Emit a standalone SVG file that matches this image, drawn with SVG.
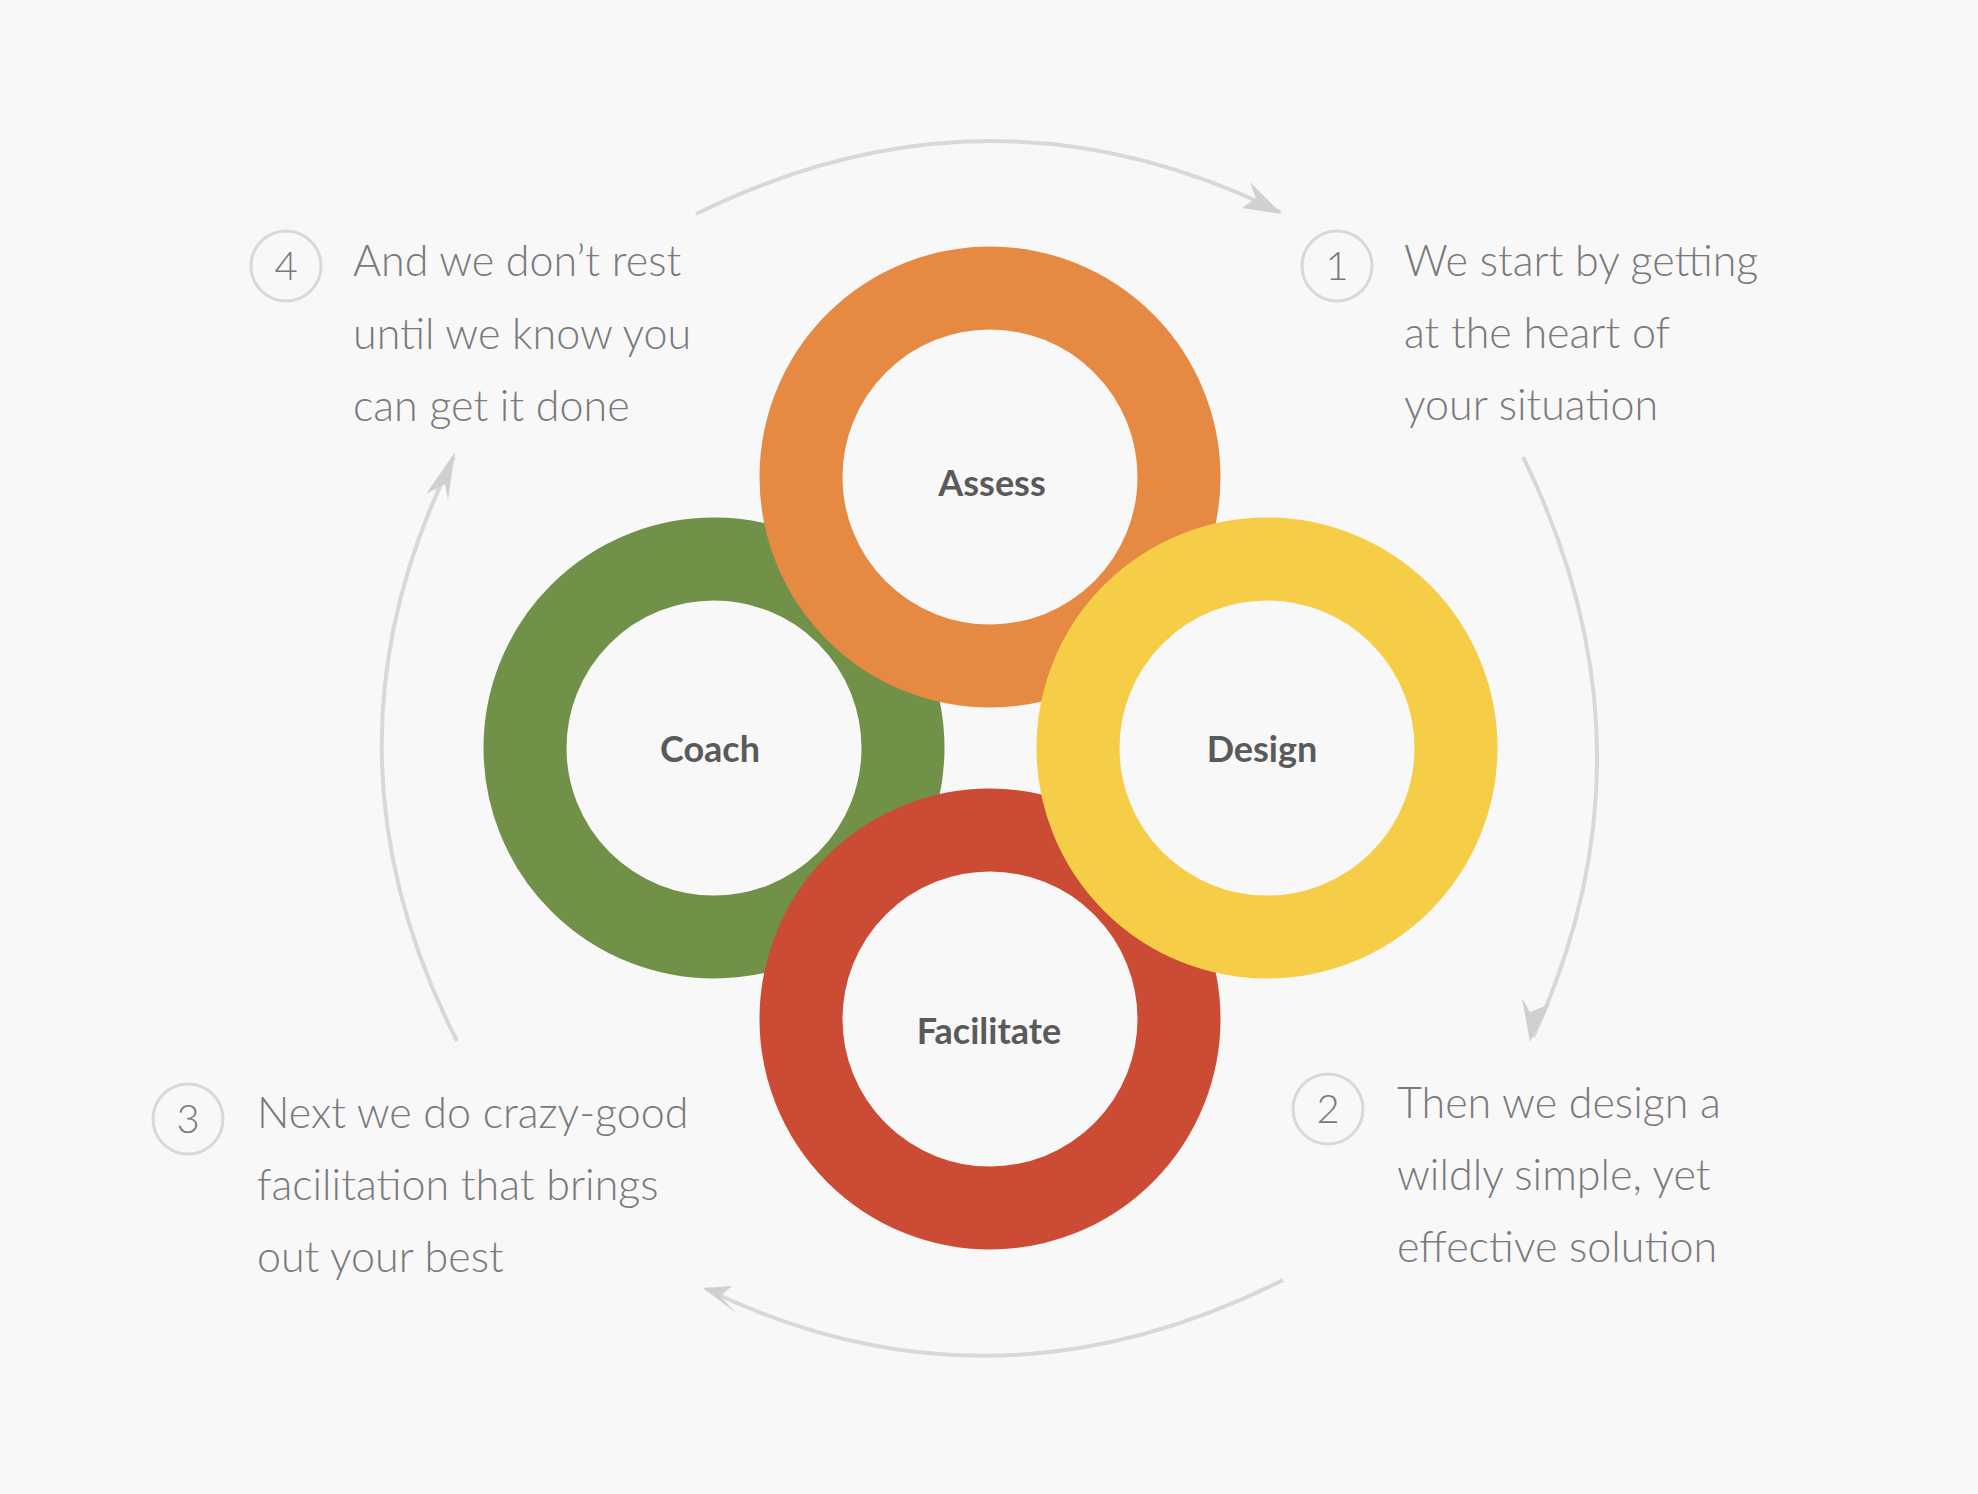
<svg xmlns="http://www.w3.org/2000/svg" width="1978" height="1494" viewBox="0 0 1978 1494">
<style>
.ring{fill:#f8f8f8;stroke-width:83}
.lbl{font-family:Lato,"Liberation Sans",sans-serif;font-weight:bold;font-size:36px;fill:#5a5a5a;text-anchor:middle}
.txt{font-family:Lato,"Liberation Sans",sans-serif;font-weight:300;font-size:43px;fill:#7a7a7a}
.num{fill:none;stroke:#d8d8d8;stroke-width:3}
.numt{font-family:Lato,"Liberation Sans",sans-serif;font-weight:300;font-size:40px;fill:#7a7a7a;text-anchor:middle}
.arc{fill:none;stroke:#d8d8d8;stroke-width:4;marker-end:url(#ah)}
</style>
<defs>
<marker id="ah" viewBox="0 0 12 10" refX="10" refY="5" markerWidth="12" markerHeight="10" markerUnits="userSpaceOnUse" orient="auto">
<path d="M0,0 L12,5 L0,10 L3,5 Z" fill="#d0d0d0"/>
</marker>
</defs>
<rect width="1978" height="1494" fill="#f8f8f8"/>
<g id="connectors">
<path class="arc" d="M696,214 Q990,69 1280,212" style="marker-end:none"/>
<path class="arc" d="M1523,457 Q1666,748 1533,1037" style="marker-end:none"/>
<path class="arc" d="M1283,1280 Q990,1427 706,1289" style="marker-end:none"/>
<path class="arc" d="M457,1041 Q308,748 454,457" style="marker-end:none"/>
<path d="M1282,214 L1250,182 L1256,198 L1242,208 Z" fill="#d0d0d0"/>
<path d="M1530,1042 L1522,998 L1530,1012 L1550,1004 Z" fill="#d0d0d0"/>
<path d="M703,1288 L732,1286 L720,1296 L736,1313 Z" fill="#d0d0d0"/>
<path d="M455,452 L448,500 L445,484 L426,494 Z" fill="#d0d0d0"/>
</g>
<g id="coach"><circle class="ring" cx="714" cy="748" r="189" stroke="#719048"/><text class="lbl" x="710" y="762">Coach</text></g>
<g id="assess"><circle class="ring" cx="990" cy="477" r="189" stroke="#E68943"/><text class="lbl" x="992" y="496">Assess</text></g>
<g id="facilitate"><circle class="ring" cx="990" cy="1019" r="189" stroke="#CB4B34"/><text class="lbl" x="989" y="1044">Facilitate</text></g>
<g id="design"><circle class="ring" cx="1267" cy="748" r="189" stroke="#F6CD46"/><text class="lbl" x="1262" y="762">Design</text></g>
<g id="step1"><circle class="num" cx="1337" cy="266" r="35"/><text class="numt" x="1337" y="280">1</text>
<text class="txt" x="1404" y="276">We start by getting</text><text class="txt" x="1404" y="348">at the heart of</text><text class="txt" x="1404" y="420">your situation</text></g>
<g id="step2"><circle class="num" cx="1328" cy="1109" r="35"/><text class="numt" x="1328" y="1123">2</text>
<text class="txt" x="1397" y="1118">Then we design a</text><text class="txt" x="1397" y="1190">wildly simple, yet</text><text class="txt" x="1397" y="1262">effective solution</text></g>
<g id="step3"><circle class="num" cx="188" cy="1119" r="35"/><text class="numt" x="188" y="1133">3</text>
<text class="txt" x="257" y="1128">Next we do crazy-good</text><text class="txt" x="257" y="1200">facilitation that brings</text><text class="txt" x="257" y="1272">out your best</text></g>
<g id="step4"><circle class="num" cx="286" cy="266" r="35"/><text class="numt" x="286" y="280">4</text>
<text class="txt" x="353" y="276">And we don’t rest</text><text class="txt" x="353" y="349">until we know you</text><text class="txt" x="353" y="421">can get it done</text></g>
</svg>
